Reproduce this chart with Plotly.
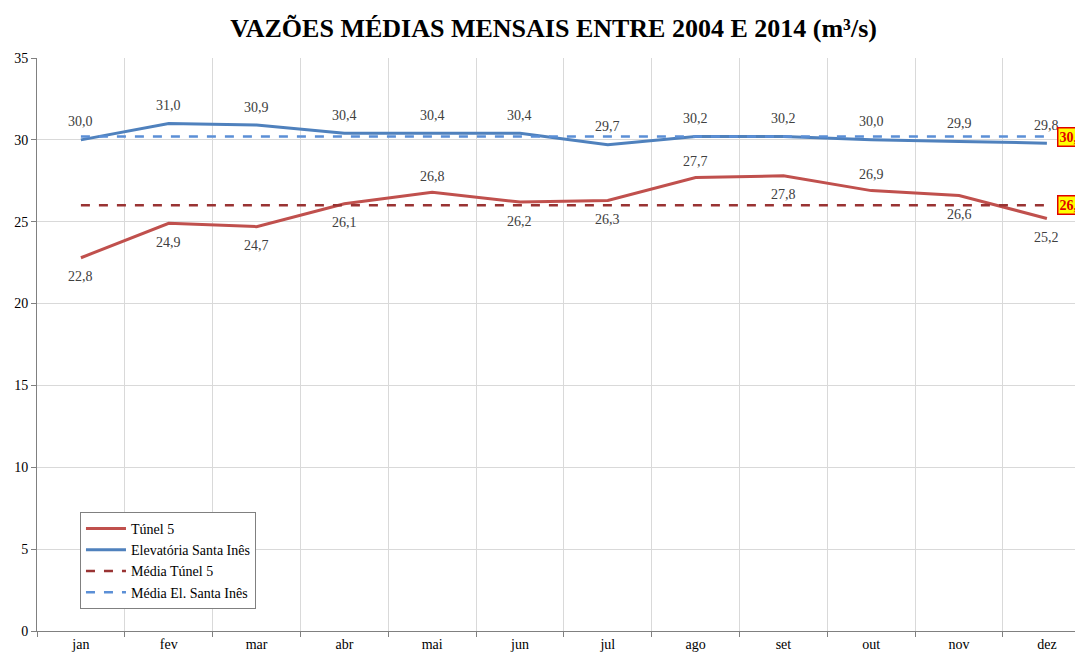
import plotly.graph_objects as go

months = ["jan", "fev", "mar", "abr", "mai", "jun", "jul", "ago", "set", "out", "nov", "dez"]
tunel5 = [22.8, 24.9, 24.7, 26.1, 26.8, 26.2, 26.3, 27.7, 27.8, 26.9, 26.6, 25.2]
elevatoria = [30.0, 31.0, 30.9, 30.4, 30.4, 30.4, 29.7, 30.2, 30.2, 30.0, 29.9, 29.8]
tunel5_above = [False, False, False, False, True, False, False, True, False, True, False, False]
media_tunel = round(sum(tunel5) / len(tunel5), 1)
media_elev = round(sum(elevatoria) / len(elevatoria), 1)

def fmt(v):
    return f"{v:.1f}".replace(".", ",")

font_serif = "Liberation Serif, Times New Roman, serif"
label_font = dict(family=font_serif, size=14, color="#404040")
fig = go.Figure()

fig.add_trace(go.Scatter(
    x=months, y=tunel5, name="Túnel 5", mode="lines",
    line=dict(color="#c0504d", width=3),
))
fig.add_trace(go.Scatter(
    x=months, y=elevatoria, name="Elevatória Santa Inês", mode="lines",
    line=dict(color="#4f81bd", width=3),
))
fig.add_trace(go.Scatter(
    x=months, y=[media_tunel] * len(months), name="Média Túnel 5", mode="lines",
    line=dict(color="#993333", width=2.5, dash="dash"),
))
fig.add_trace(go.Scatter(
    x=months, y=[media_elev] * len(months), name="Média El. Santa Inês", mode="lines",
    line=dict(color="#5b8fd6", width=2.5, dash="dash"),
))

for m, v, up in zip(months, tunel5, tunel5_above):
    fig.add_annotation(x=m, y=v, text=fmt(v), showarrow=False,
                       yanchor="middle", yshift=16 if up else -19, font=label_font)
for m, v in zip(months, elevatoria):
    fig.add_annotation(x=m, y=v, text=fmt(v), showarrow=False,
                       yanchor="middle", yshift=18, font=label_font)

for v in [media_elev, media_tunel]:
    fig.add_annotation(
        x=11.12, y=v, xref="x", yref="y", text="<b>" + fmt(v) + "</b>",
        showarrow=False, xanchor="left", yanchor="middle",
        font=dict(family=font_serif, size=14, color="#e00000"),
        bgcolor="#ffff00", bordercolor="#e00000", borderwidth=1.5, borderpad=1,
    )

fig.update_layout(
    width=1075, height=655,
    margin=dict(l=37, r=0, t=58, b=24, autoexpand=False),
    paper_bgcolor="white", plot_bgcolor="white",
    title=dict(text="<b>VAZÕES MÉDIAS MENSAIS ENTRE 2004 E 2014 (m³/s)</b>",
               x=0.515, xanchor="center", y=0.957, yanchor="middle",
               font=dict(family=font_serif, size=26, color="black")),
    font=dict(family=font_serif, size=13, color="black"),
    showlegend=True,
    legend=dict(x=0.0414, y=0.2077, xanchor="left", yanchor="top",
                bgcolor="white", bordercolor="#808080", borderwidth=1,
                font=dict(family=font_serif, size=14, color="black"),
                tracegroupgap=0, itemwidth=40),
)
fig.update_xaxes(
    type="category", range=[-0.5, 11.32], automargin=False,
    tickson="boundaries", ticks="outside", ticklen=5, tickcolor="#808080",
    showgrid=True, gridcolor="#d9d9d9", gridwidth=1,
    showline=True, linecolor="#808080", linewidth=1,
    tickfont=dict(family=font_serif, size=14, color="black"),
)
fig.update_yaxes(
    range=[0, 35], dtick=5, ticks="outside", ticklen=5, tickcolor="#808080",
    showgrid=True, gridcolor="#d9d9d9", gridwidth=1, automargin=False,
    showline=True, linecolor="#808080", linewidth=1, zeroline=False,
    tickfont=dict(family=font_serif, size=14, color="black"),
)

fig.write_html(
    "out.html",
    config={"displayModeBar": False},
    post_script="document.body.style.margin='0';document.body.style.overflow='hidden';",
)
